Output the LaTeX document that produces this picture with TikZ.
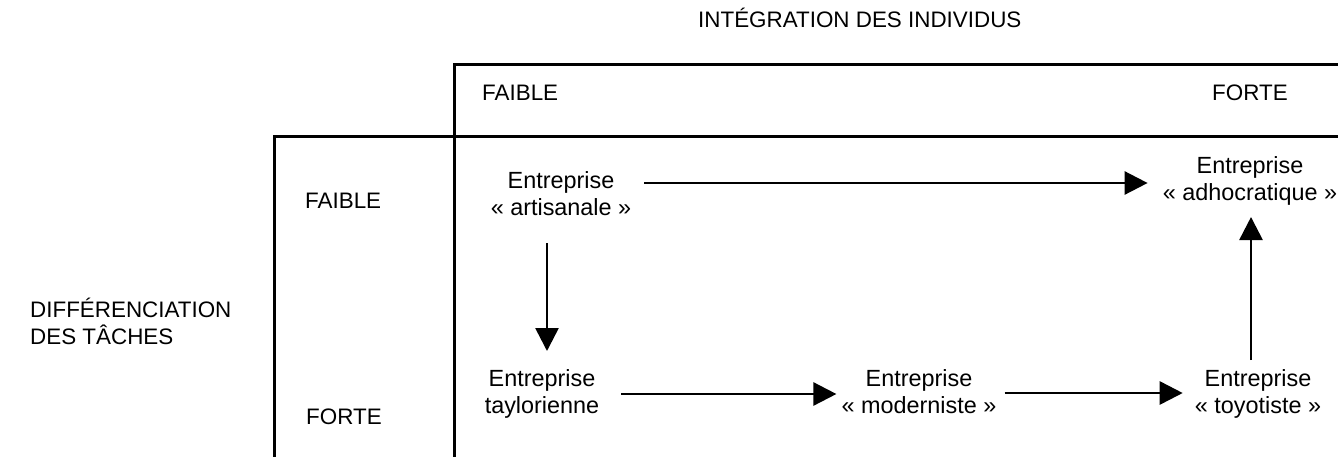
\documentclass[tikz,border=0pt]{standalone}
\usepackage{fontspec}
\setmainfont{Liberation Sans}
\usetikzlibrary{arrows.meta}
\begin{document}
\begin{tikzpicture}[x=1pt,y=-1pt,
  lbl/.style={inner sep=0pt,font=\fontsize{22.4}{27}\selectfont},
  ent/.style={inner sep=0pt,align=center,anchor=north,font=\fontsize{23.4}{27}\selectfont},
  frame/.style={line width=3pt,line join=miter},
  arr/.style={line width=2.6pt,-{Triangle[length=23pt,width=23pt]}}]
\useasboundingbox[fill=white] (0,0) rectangle (1338,456);
% frame
\draw[frame] (1340,64) -- (454,64) -- (454,458);
\draw[frame] (1340,136) -- (274,136) -- (274,458);
% axis labels
\node[lbl,anchor=base west] (title) at (698,27) {INTÉGRATION DES INDIVIDUS};
\node[lbl,anchor=base west] (hfaible) at (482,100) {FAIBLE};
\node[lbl,anchor=base west] (hforte) at (1212,100) {FORTE};
\node[lbl,anchor=base west] (vfaible) at (305,208) {FAIBLE};
\node[lbl,anchor=base west] (vforte) at (306,424) {FORTE};
\node[lbl,anchor=north west,align=left] (diff) at (30,298) {DIFFÉRENCIATION\\DES TÂCHES};
% enterprises
\node[ent] (art) at (561,171) {Entreprise\\« artisanale »};
\node[ent] (adh) at (1250,156) {Entreprise\\« adhocratique »};
\node[ent] (tay) at (542,369) {Entreprise\\taylorienne};
\node[ent] (mod) at (919,369) {Entreprise\\« moderniste »};
\node[ent] (toy) at (1258,369) {Entreprise\\« toyotiste »};
% arrows
\draw[arr] ([shift={(13,12)}]art.north east) -- ([shift={(-15,27)}]adh.north west);
\draw[arr] ([shift={(-14,72)}]art.north) -- ([shift={(5,-18)}]tay.north);
\draw[arr] ([shift={(22,25)}]tay.north east) -- ([shift={(-5,25)}]mod.north west);
\draw[arr] ([shift={(8,24)}]mod.north east) -- ([shift={(-12,24)}]toy.north west);
\draw[arr] ([shift={(-7,-9)}]toy.north) -- ([shift={(1,61)}]adh.north);
\end{tikzpicture}
\end{document}
